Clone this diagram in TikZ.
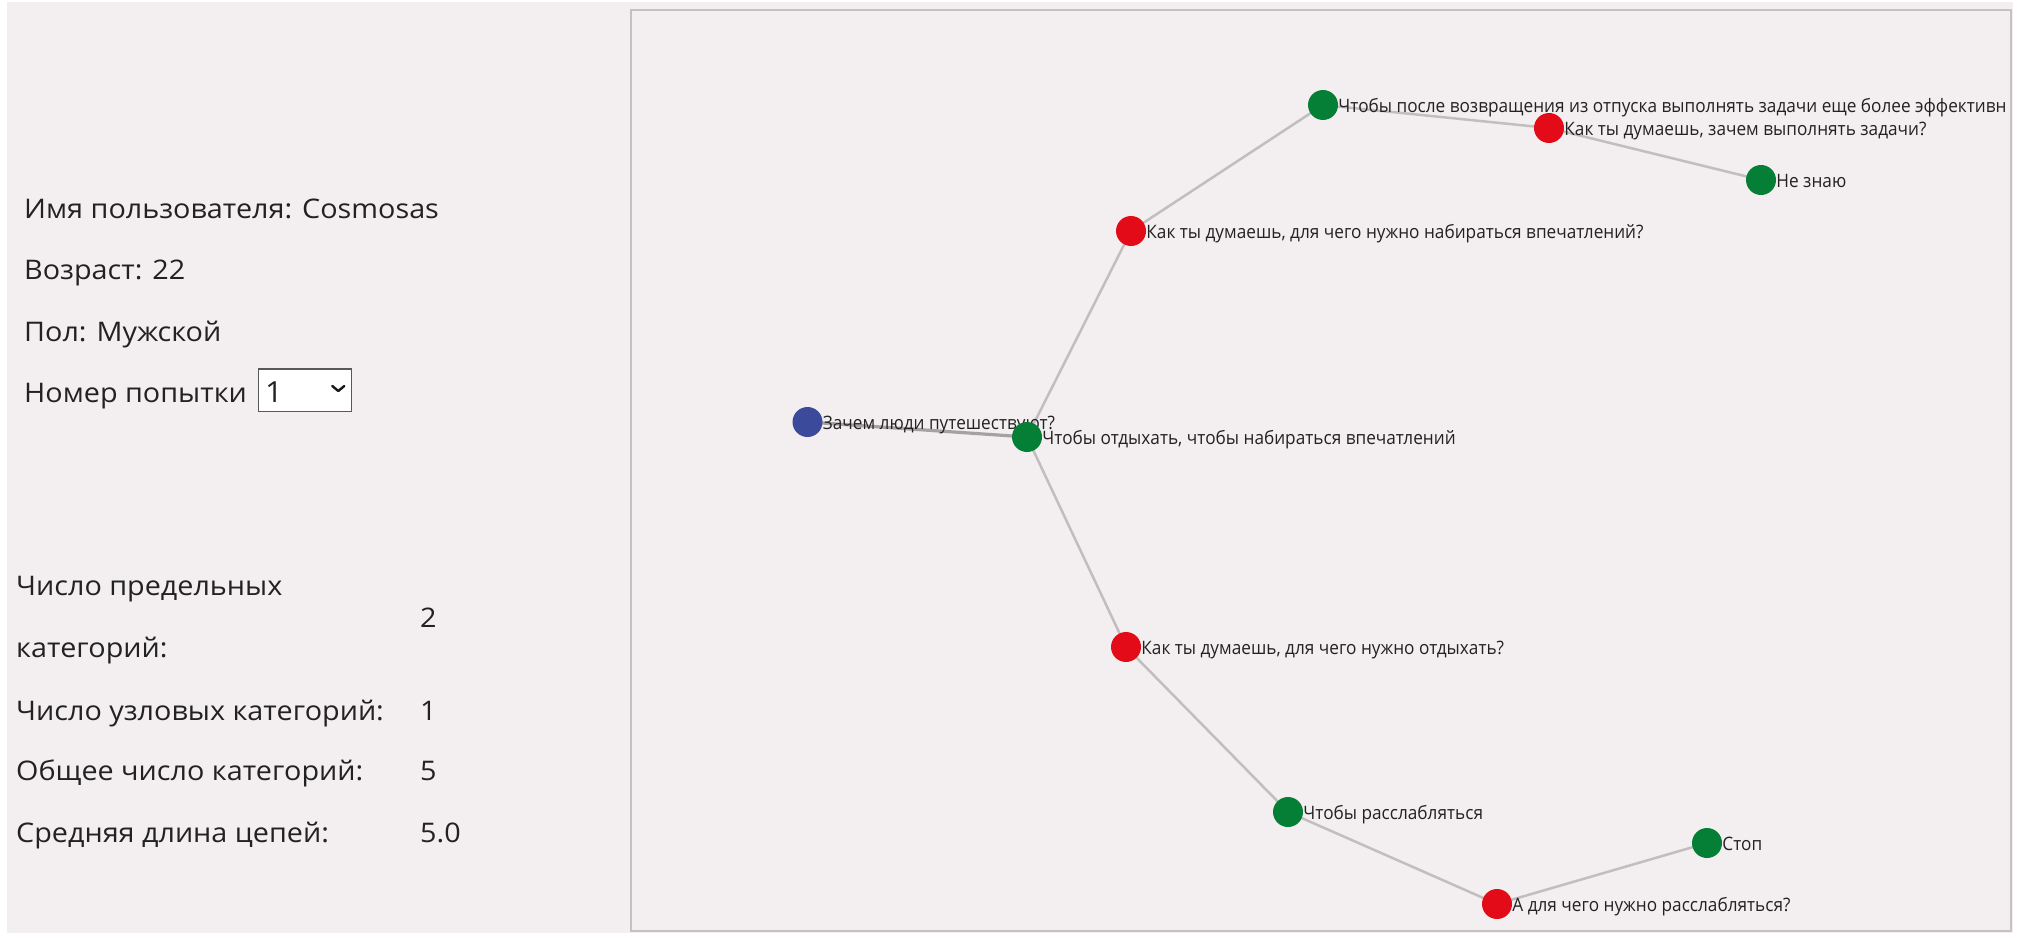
\documentclass[tikz,border=0pt]{standalone}
\usepackage{fontspec}
\setmainfont{Open Sans}[FakeStretch=1.065]
\newfontfamily\lblfont{Open Sans}[FakeStretch=0.93]
\pgfdeclarelayer{bg}
\pgfdeclarelayer{edges}
\pgfsetlayers{bg,edges,main}
\definecolor{pagebg}{HTML}{F3EFF0}
\definecolor{boxline}{HTML}{C5C1C2}
\definecolor{edgecol}{HTML}{C2BEBF}
\definecolor{qblue}{HTML}{3C4A9C}
\definecolor{agreen}{HTML}{047F35}
\definecolor{qred}{HTML}{E30B17}
\definecolor{txt}{HTML}{222222}
\tikzset{
  info/.style={anchor=base west, inner sep=0, text=txt, font=\fontsize{27}{30}\selectfont},
  dot/.style={circle, minimum size=30pt, inner sep=0, draw=none},
  bluedot/.style={dot, fill=qblue},
  greendot/.style={dot, fill=agreen},
  reddot/.style={dot, fill=qred},
  lbl/.style={anchor=base west, inner sep=0, text=txt, font=\lblfont\fontsize{18.5}{20}\selectfont},
  link/.style={draw=edgecol, line width=2.5pt},
}
\begin{document}
\begin{tikzpicture}[x=1pt,y=-1pt]
\useasboundingbox (0,0) rectangle (2023,947);
\begin{pgfonlayer}{bg}
  \fill[white] (0,0) rectangle (2023,947);
  \fill[pagebg] (7,2) rectangle (2013,933);
  \draw[boxline, line width=2pt] (631,10) rectangle (2011,931);
\end{pgfonlayer}

% left panel
\node[info] (name) at (24,218) {Имя пользователя: Cosmosas};
\node[info] (age) at (24,279) {Возраст: 22};
\node[info] (sex) at (24,341) {Пол: Мужской};
\node[info] (try) at (24,402) {Номер попытки};
\node[draw=black!65, fill=white, line width=1.5pt, minimum width=93pt, minimum height=42.5pt, inner sep=0] (sel) at (305,390.3) {};
\node[info, font=\fontsize{29}{30}\selectfont] (selv) at (265,402.7) {1};
\coordinate (chv) at (338.3,391);
\draw[line width=2.4pt, black!90, line cap=round, line join=round] ([xshift=-6pt,yshift=5pt]chv) -- (chv) -- ([xshift=6pt,yshift=5pt]chv);

\node[info] (s1a) at (16,595) {Число предельных};
\node[info] (s1b) at (16,657) {категорий:};
\node[info] (v1) at (420,627) {2};
\node[info] (s2) at (16,720) {Число узловых категорий:};
\node[info] (v2) at (420,720) {1};
\node[info] (s3) at (16,780) {Общее число категорий:};
\node[info] (v3) at (420,780) {5};
\node[info] (s4) at (16,842) {Средняя длина цепей:};
\node[info] (v4) at (420,842) {5.0};

% graph
\begin{scope}
\clip (632,11) rectangle (2010,930);
\node[bluedot] (q0) at (807.5,422) {};
\node[lbl] (t0) at ([yshift=-7.5pt]q0.east) {Зачем люди путешествуют?};
\node[greendot] (g1) at (1027,437) {};
\node[lbl] (t1) at ([yshift=-7.5pt]g1.east) {Чтобы отдыхать, чтобы набираться впечатлений};
\node[reddot] (r1) at (1131,231) {};
\node[lbl] (t2) at ([yshift=-7.5pt]r1.east) {Как ты думаешь, для чего нужно набираться впечатлений?};
\node[greendot] (g2) at (1323,105) {};
\node[lbl] (t3) at ([yshift=-7.5pt]g2.east) {Чтобы после возвращения из отпуска выполнять задачи еще более эффективн};
\node[reddot] (r2) at (1549,128) {};
\node[lbl] (t4) at ([yshift=-7.5pt]r2.east) {Как ты думаешь, зачем выполнять задачи?};
\node[greendot] (g3) at (1761,180) {};
\node[lbl] (t5) at ([yshift=-7.5pt]g3.east) {Не знаю};
\node[reddot] (r3) at (1126,647) {};
\node[lbl] (t6) at ([yshift=-7.5pt]r3.east) {Как ты думаешь, для чего нужно отдыхать?};
\node[greendot] (g4) at (1288,812) {};
\node[lbl] (t7) at ([yshift=-7.5pt]g4.east) {Чтобы расслабляться};
\node[reddot] (r4) at (1497,904) {};
\node[lbl] (t8) at ([yshift=-7.5pt]r4.east) {А для чего нужно расслабляться?};
\node[greendot] (g5) at (1707,843) {};
\node[lbl] (t9) at ([yshift=-7.5pt]g5.east) {Стоп};
\end{scope}

\begin{pgfonlayer}{edges}
  \draw[link, draw=edgecol!85!black, line width=3.2pt] (q0.center) -- (g1.center);
  \draw[link] (g1.center) -- (r1.center);
  \draw[link] (r1.center) -- (g2.center);
  \draw[link] (g2.center) -- (r2.center);
  \draw[link] (r2.center) -- (g3.center);
  \draw[link] (g1.center) -- (r3.center);
  \draw[link] (r3.center) -- (g4.center);
  \draw[link] (g4.center) -- (r4.center);
  \draw[link] (r4.center) -- (g5.center);
\end{pgfonlayer}
\end{tikzpicture}
\end{document}
